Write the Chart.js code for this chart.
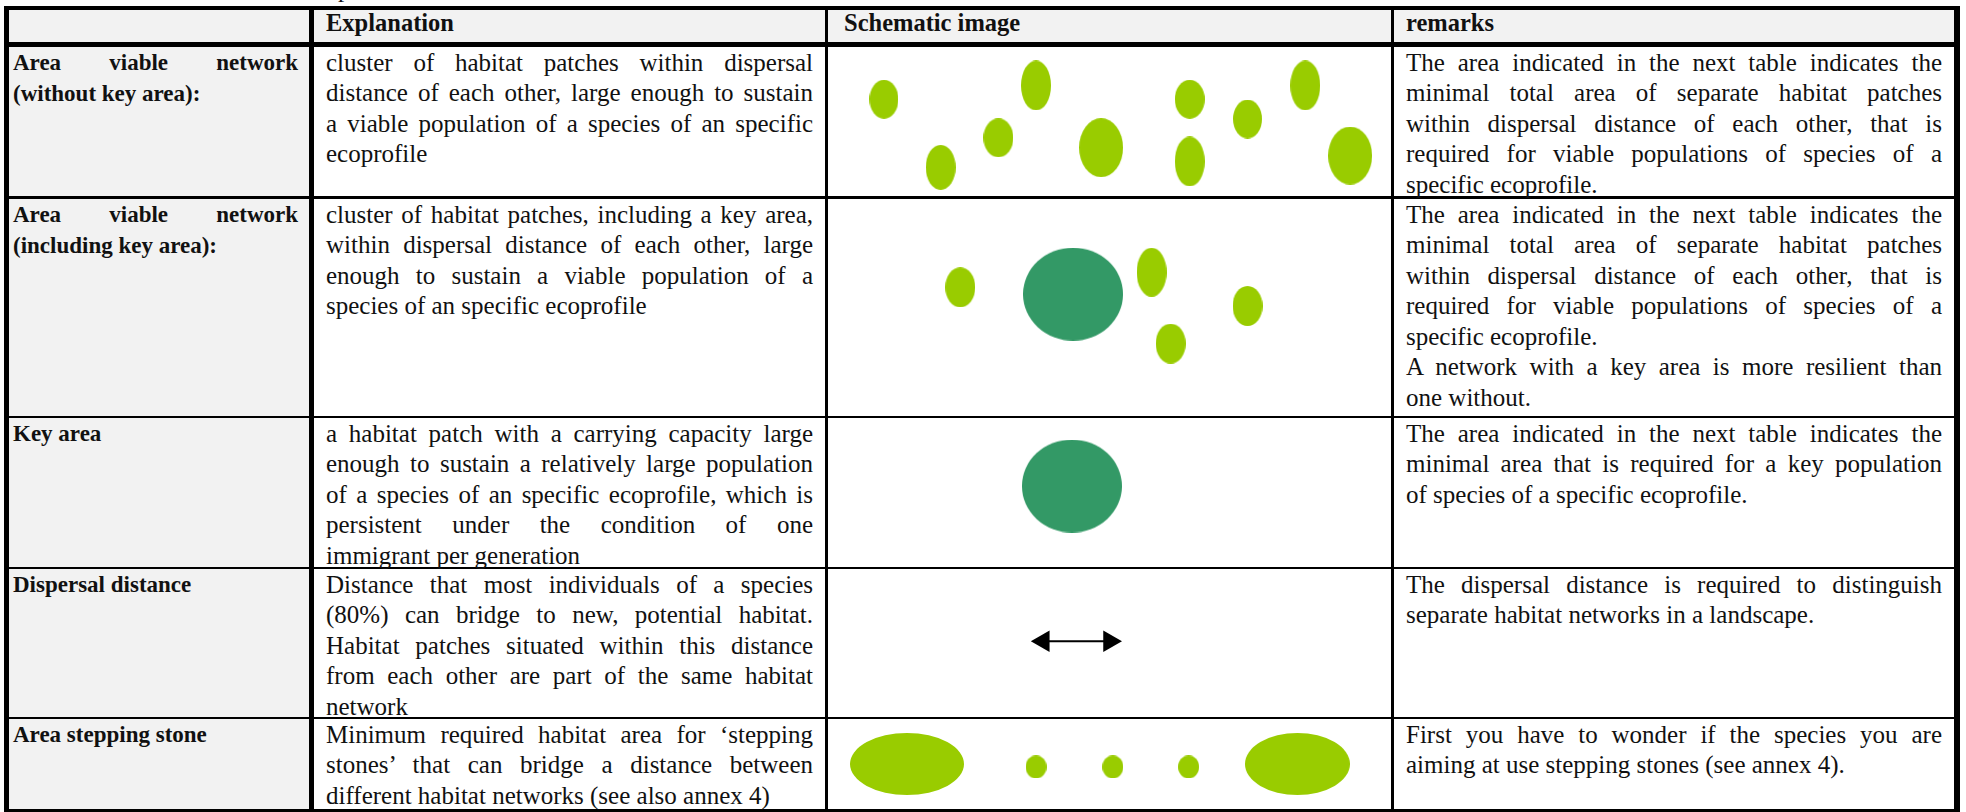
<!DOCTYPE html>
<html>
<head>
<meta charset="utf-8">
<script src="https://cdn.jsdelivr.net/npm/chart.js@4.4.0/dist/chart.umd.min.js"></script>
<style>
  html, body { margin: 0; padding: 0; background: #fff; }
  body { width: 1966px; height: 812px; position: relative; overflow: hidden;
         font-family: "Liberation Serif", "Times New Roman", serif; color: #111; }
  .gray { position: absolute; background: #f2f2f2; }
  .ln { position: absolute; background: #000; }
  .txt { position: absolute; line-height: 30.5px; }
  .txt div { white-space: nowrap; }
  .txt .j { text-align: justify; text-align-last: justify; }
  .b { font-weight: bold; }
  .fig { position: absolute; }
</style>
</head>
<body>
<script>
// ---- table text ----
const headers = ['', 'Explanation', 'Schematic image', 'remarks'];

const terms = [
  [['Area viable network', '(without key area):']],
  [['Area viable network', '(including key area):']],
  [['Key area']],
  [['Dispersal distance']],
  [['Area stepping stone']]
];

const explanations = [
  [['cluster of habitat patches within dispersal', 'distance of each other, large enough to sustain',
    'a viable population of a species of an specific', 'ecoprofile']],
  [['cluster of habitat patches, including a key area,', 'within dispersal distance of each other, large',
    'enough to sustain a viable population of a', 'species of an specific ecoprofile']],
  [['a habitat patch with a carrying capacity large', 'enough to sustain a relatively large population',
    'of a species of an specific ecoprofile, which is', 'persistent under the condition of one',
    'immigrant per generation']],
  [['Distance that most individuals of a species', '(80%) can bridge to new, potential habitat.',
    'Habitat patches situated within this distance', 'from each other are part of the same habitat',
    'network']],
  [['Minimum required habitat area for \u2018stepping', 'stones\u2019 that can bridge a distance between',
    'different habitat networks (see also annex 4)']]
];

const remarks = [
  [['The area indicated in the next table indicates the', 'minimal total area of separate habitat patches',
    'within dispersal distance of each other, that is', 'required for viable populations of species of a',
    'specific ecoprofile.']],
  [['The area indicated in the next table indicates the', 'minimal total area of separate habitat patches',
    'within dispersal distance of each other, that is', 'required for viable populations of species of a',
    'specific ecoprofile.'],
   ['A network with a key area is more resilient than', 'one without.']],
  [['The area indicated in the next table indicates the', 'minimal area that is required for a key population',
    'of species of a specific ecoprofile.']],
  [['The dispersal distance is required to distinguish', 'separate habitat networks in a landscape.']],
  [['First you have to wonder if the species you are', 'aiming at use stepping stones (see annex 4).']]
];

// ---- schematic values (percent of the picture cell, y from top) ----
// network without key area
const net1X = [9.8, 36.9, 19.9, 30.2, 48.5, 64.3, 64.3, 74.6, 84.9, 92.9];
const net1Y = [34.9, 25.5, 81.2, 61.1, 67.8, 34.9, 77.2, 48.3, 25.5, 73.2];
const net1W = [5.2, 5.3, 5.3, 5.3, 7.8, 5.3, 5.3, 5.2, 5.3, 7.8];
const net1H = [26.8, 34.2, 30.9, 26.8, 40.3, 26.8, 34.2, 26.8, 34.2, 39.6];
// network with key area
const net2X = [23.4, 57.5, 60.9, 74.6];
const net2Y = [40.6, 33.6, 66.8, 49.3];
const net2W = [5.3, 5.3, 5.3, 5.3];
const net2H = [18.4, 23.0, 18.4, 18.4];
const key2X = [43.5], key2Y = [43.8], key2W = [17.9], key2H = [43.3];
// key area alone
const key3X = [43.3], key3Y = [45.6], key3W = [17.8], key3H = [63.1];
// dispersal distance arrow
const distX = [37.7, 50.0];
const distY = [48.6, 48.6];
// stepping stones
const stepX = [13.9, 36.9, 50.6, 64.1, 83.5];
const stepY = [50.0, 53.3, 53.3, 53.3, 50.0];
const stepW = [20.4, 3.7, 3.7, 3.7, 18.7];
const stepH = [70.0, 26.7, 26.7, 26.7, 70.0];

const patchGreen = '#99cc00';
const keyGreen = '#339966';

// ---- layout ----
const colX = [4, 309, 825, 1391, 1954];
const colW = [5, 5, 3, 3, 6];
const rowY = [6, 42, 196, 416, 567, 717, 809];
const rowH = [4, 5, 3, 2, 2, 2, 3];
const textL = [13, 326, 844, 1406];
const textR = [298, 813, 1380, 1942];
const lineH = 30.5;
const bodySize = 25, labelSize = 23, headSize = 24.5;

function el(cls, l, t, w, h) {
  const d = document.createElement('div');
  d.className = cls;
  d.style.left = l + 'px'; d.style.top = t + 'px';
  if (w != null) d.style.width = w + 'px';
  if (h != null) d.style.height = h + 'px';
  document.body.appendChild(d);
  return d;
}

// gray header and first column
el('gray', colX[0], rowY[0], colX[4] - colX[0], rowY[1] - rowY[0]);
el('gray', colX[0], rowY[1], colX[1] - colX[0], rowY[6] - rowY[1]);

// lines
rowY.forEach((y, i) => el('ln', colX[0], y, colX[4] + colW[4] - colX[0], rowH[i]));
colX.forEach((x, i) => el('ln', x, rowY[0], colW[i], rowY[6] + rowH[6] - rowY[0]));

// place a block so its first baseline sits at `baseline`
function textBlock(paras, col, baseline, size, bold) {
  const off = (lineH - size * 1.107) / 2 + size * 0.891;
  const d = el('txt' + (bold ? ' b' : ''), textL[col], baseline - off, textR[col] - textL[col]);
  d.style.fontSize = size + 'px';
  paras.forEach(lines => {
    lines.forEach((s, k) => {
      const ln = document.createElement('div');
      if (k < lines.length - 1) ln.className = 'j';
      ln.textContent = s;
      d.appendChild(ln);
    });
  });
  return d;
}

// caption descender above the table
const cap = el('txt', 338, -26);
cap.style.fontSize = bodySize + 'px';
cap.textContent = 'p';

// header
headers.forEach((h, c) => { if (h) textBlock([[h]], c, 32, headSize, true); });
for (let r = 0; r < 5; r++) {
  const base = rowY[r + 1] + rowH[r + 1] + 24.5;
  textBlock(terms[r], 0, base, labelSize, true);
  textBlock(explanations[r], 1, base, bodySize, false);
  textBlock(remarks[r], 3, base, bodySize, false);
}

// ---- schematic pictures ----
function pts(X, Y, W, H) {
  return X.map((x, i) => ({ x: x, y: Y[i], w: W ? W[i] : 0, h: H ? H[i] : 0 }));
}

function patchStyle(ctx) {
  const p = ctx.raw, ch = ctx.chart;
  if (!p || !ch.scales.x) return 'circle';
  const sx = ch.scales.x, sy = ch.scales.y;
  const w = Math.abs(sx.getPixelForValue(p.x + p.w / 2) - sx.getPixelForValue(p.x - p.w / 2));
  const h = Math.abs(sy.getPixelForValue(p.y + p.h / 2) - sy.getPixelForValue(p.y - p.h / 2));
  const c = document.createElement('canvas');
  c.width = Math.max(1, Math.round(w));
  c.height = Math.max(1, Math.round(h));
  const g = c.getContext('2d');
  g.fillStyle = ctx.dataset.backgroundColor;
  g.beginPath();
  g.ellipse(c.width / 2, c.height / 2, c.width / 2, c.height / 2, 0, 0, Math.PI * 2);
  g.fill();
  return c;
}

function patches(data, color) {
  return { data: data, backgroundColor: color, borderWidth: 0,
           pointStyle: patchStyle, pointRadius: 1, pointHoverRadius: 1 };
}

function figure(row, datasets) {
  const top = rowY[row + 1] + rowH[row + 1];
  const left = colX[2] + colW[2];
  const box = el('fig', left, top, colX[3] - left, rowY[row + 2] - top);
  const cv = document.createElement('canvas');
  box.appendChild(cv);
  new Chart(cv, {
    type: 'scatter',
    data: { datasets: datasets },
    options: {
      responsive: true,
      maintainAspectRatio: false,
      animation: false,
      events: [],
      layout: { padding: 0 },
      plugins: { legend: { display: false }, tooltip: { enabled: false } },
      scales: {
        x: { type: 'linear', min: 0, max: 100, display: false },
        y: { type: 'linear', min: 0, max: 100, reverse: true, display: false }
      }
    }
  });
}

figure(0, [patches(pts(net1X, net1Y, net1W, net1H), patchGreen)]);
figure(1, [patches(pts(key2X, key2Y, key2W, key2H), keyGreen),
           patches(pts(net2X, net2Y, net2W, net2H), patchGreen)]);
figure(2, [patches(pts(key3X, key3Y, key3W, key3H), keyGreen)]);
figure(3, [{
  data: pts(distX, distY),
  showLine: true,
  borderColor: '#000',
  borderWidth: 2,
  backgroundColor: '#000',
  pointBackgroundColor: '#000',
  pointBorderWidth: 0,
  pointStyle: 'triangle',
  pointRadius: 12.5,
  pointRotation: [270, 90]
}]);
figure(4, [patches(pts(stepX, stepY, stepW, stepH), patchGreen)]);
</script>
</body>
</html>
